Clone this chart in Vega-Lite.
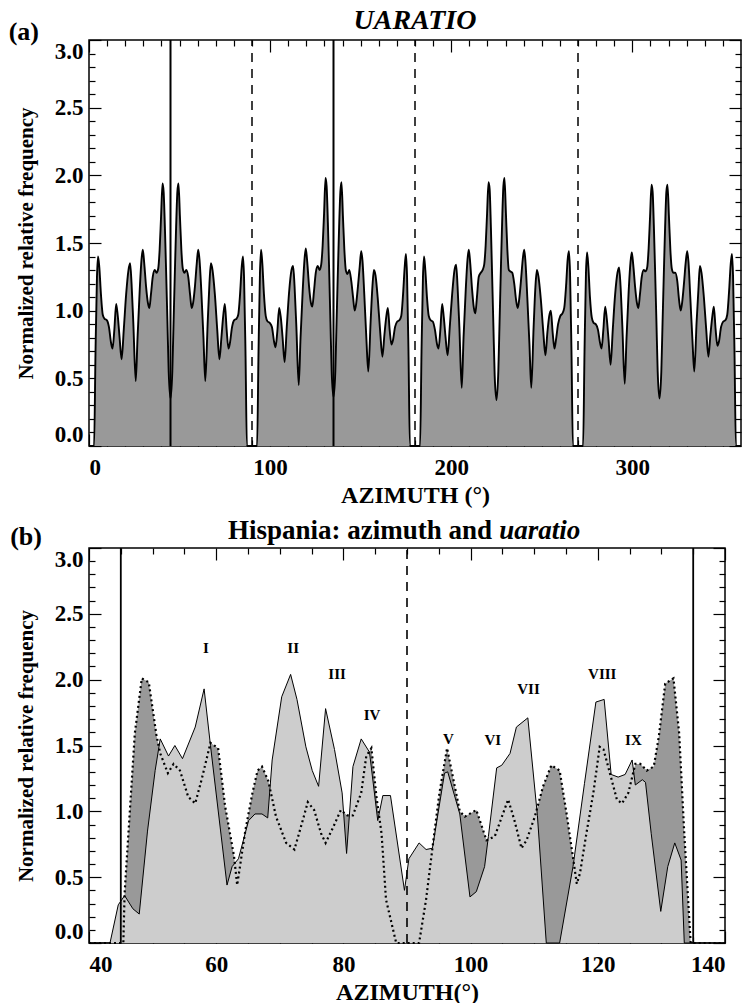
{
  "$schema": "https://vega.github.io/schema/vega-lite/v6.json",
  "padding": {"left": 7, "top": 6, "right": 5, "bottom": 3},
  "background": "white",
  "config": {
    "font": "Liberation Serif",
    "view": {"stroke": "black", "strokeWidth": 1.5},
    "axis": {"grid": false, "domain": false, "labelFont": "Liberation Serif", "labelFontSize": 23, "labelFontWeight": "bold", "labelColor": "black", "titleFont": "Liberation Serif", "titleFontWeight": "bold", "titleColor": "black", "tickColor": "black", "tickWidth": 1.2},
    "title": {"font": "Liberation Serif", "fontWeight": "bold", "color": "black"},
    "concat": {"spacing": 8}
  },
  "datasets": {
    "ua": [
      {"a":0,"v":0},{"a":2.8,"v":0},{"a":3.6,"v":0.7},{"a":4.4,"v":1.25},{"a":5.0,"v":1.40},{"a":5.7,"v":1.32},{"a":6.6,"v":1.12},{"a":7.6,"v":0.97},{"a":8.6,"v":0.94},{"a":9.8,"v":0.93},{"a":11.0,"v":0.88},{"a":12.2,"v":0.76},{"a":13.0,"v":0.72},{"a":14.0,"v":0.86},{"a":15.0,"v":1.05},{"a":15.9,"v":0.96},{"a":16.9,"v":0.80},{"a":18.0,"v":0.64},{"a":19.2,"v":0.86},{"a":20.5,"v":1.12},{"a":21.8,"v":1.30},{"a":22.7,"v":1.35},{"a":23.5,"v":1.20},{"a":24.5,"v":0.90},{"a":25.8,"v":0.48},{"a":26.8,"v":0.80},{"a":28.0,"v":1.15},{"a":29.0,"v":1.38},{"a":29.7,"v":1.45},{"a":30.5,"v":1.35},{"a":31.5,"v":1.18},{"a":32.5,"v":1.06},{"a":33.3,"v":1.02},{"a":34.2,"v":1.12},{"a":35.2,"v":1.25},{"a":36.3,"v":1.30},{"a":37.3,"v":1.28},{"a":38.2,"v":1.31},{"a":39.0,"v":1.45},{"a":39.8,"v":1.70},{"a":40.6,"v":1.94},{"a":41.2,"v":1.88},{"a":41.9,"v":1.62},{"a":42.6,"v":1.28},{"a":43.3,"v":0.92},{"a":44.0,"v":0.55},{"a":45,"v":0.35},
      {"a":46.0,"v":0.55},{"a":46.7,"v":0.92},{"a":47.4,"v":1.28},{"a":48.1,"v":1.62},{"a":48.8,"v":1.88},{"a":49.4,"v":1.94},{"a":50.2,"v":1.70},{"a":51.0,"v":1.45},{"a":51.8,"v":1.31},{"a":52.7,"v":1.28},{"a":53.7,"v":1.30},{"a":54.8,"v":1.25},{"a":55.8,"v":1.12},{"a":56.7,"v":1.02},{"a":57.5,"v":1.06},{"a":58.5,"v":1.18},{"a":59.5,"v":1.35},{"a":60.3,"v":1.45},{"a":61.0,"v":1.38},{"a":62.0,"v":1.15},{"a":63.2,"v":0.80},{"a":64.2,"v":0.48},{"a":65.5,"v":0.90},{"a":66.5,"v":1.20},{"a":67.3,"v":1.35},{"a":68.2,"v":1.30},{"a":69.5,"v":1.12},{"a":70.8,"v":0.86},{"a":72.0,"v":0.64},{"a":73.1,"v":0.80},{"a":74.1,"v":0.96},{"a":75.0,"v":1.05},{"a":76.0,"v":0.86},{"a":77.0,"v":0.72},{"a":77.8,"v":0.76},{"a":79.0,"v":0.88},{"a":80.2,"v":0.93},{"a":81.4,"v":0.94},{"a":82.4,"v":0.97},{"a":83.4,"v":1.12},{"a":84.3,"v":1.32},{"a":85.0,"v":1.40},{"a":85.6,"v":1.25},{"a":86.4,"v":0.7},{"a":87.2,"v":0},{"a":90,"v":0},
      {"a":92.8,"v":0},{"a":93.6,"v":0.7},{"a":94.4,"v":1.28},{"a":95.0,"v":1.45},{"a":95.7,"v":1.35},{"a":96.6,"v":1.12},{"a":97.6,"v":0.96},{"a":98.6,"v":0.92},{"a":99.8,"v":0.91},{"a":101.0,"v":0.88},{"a":102.2,"v":0.77},{"a":103.0,"v":0.73},{"a":104.0,"v":0.85},{"a":105.0,"v":1.02},{"a":105.9,"v":0.95},{"a":106.9,"v":0.80},{"a":108.0,"v":0.62},{"a":109.2,"v":0.88},{"a":110.5,"v":1.14},{"a":111.8,"v":1.30},{"a":112.7,"v":1.33},{"a":113.5,"v":1.18},{"a":114.5,"v":0.88},{"a":115.8,"v":0.45},{"a":116.8,"v":0.80},{"a":118.0,"v":1.15},{"a":119.0,"v":1.38},{"a":119.7,"v":1.46},{"a":120.5,"v":1.36},{"a":121.5,"v":1.18},{"a":122.5,"v":1.06},{"a":123.3,"v":1.03},{"a":124.2,"v":1.14},{"a":125.2,"v":1.28},{"a":126.3,"v":1.33},{"a":127.3,"v":1.30},{"a":128.2,"v":1.34},{"a":129.0,"v":1.48},{"a":129.8,"v":1.72},{"a":130.6,"v":1.98},{"a":131.2,"v":1.92},{"a":131.9,"v":1.65},{"a":132.6,"v":1.30},{"a":133.3,"v":0.92},{"a":134.0,"v":0.55},{"a":135,"v":0.36},
      {"a":136.0,"v":0.55},{"a":136.7,"v":0.92},{"a":137.4,"v":1.28},{"a":138.1,"v":1.62},{"a":138.8,"v":1.88},{"a":139.4,"v":1.95},{"a":140.2,"v":1.70},{"a":141.0,"v":1.45},{"a":141.8,"v":1.30},{"a":142.7,"v":1.27},{"a":143.7,"v":1.30},{"a":144.8,"v":1.22},{"a":145.8,"v":1.10},{"a":146.7,"v":1.00},{"a":147.5,"v":1.05},{"a":148.5,"v":1.18},{"a":149.5,"v":1.33},{"a":150.3,"v":1.44},{"a":151.0,"v":1.37},{"a":152.0,"v":1.12},{"a":153.2,"v":0.78},{"a":154.2,"v":0.55},{"a":155.5,"v":0.92},{"a":156.5,"v":1.18},{"a":157.3,"v":1.30},{"a":158.2,"v":1.26},{"a":159.5,"v":1.08},{"a":160.8,"v":0.84},{"a":162.0,"v":0.66},{"a":163.1,"v":0.82},{"a":164.1,"v":0.95},{"a":165.0,"v":1.02},{"a":166.0,"v":0.86},{"a":167.0,"v":0.75},{"a":167.8,"v":0.78},{"a":169.0,"v":0.88},{"a":170.2,"v":0.92},{"a":171.4,"v":0.93},{"a":172.4,"v":0.96},{"a":173.4,"v":1.12},{"a":174.3,"v":1.32},{"a":175.0,"v":1.42},{"a":175.6,"v":1.26},{"a":176.4,"v":0.7},{"a":177.2,"v":0},{"a":180,"v":0},
      {"a":182.8,"v":0},{"a":183.6,"v":0.7},{"a":184.4,"v":1.25},{"a":185.0,"v":1.40},{"a":185.7,"v":1.30},{"a":186.6,"v":1.10},{"a":187.6,"v":0.96},{"a":188.6,"v":0.93},{"a":189.8,"v":0.92},{"a":191.0,"v":0.86},{"a":192.2,"v":0.75},{"a":193.0,"v":0.72},{"a":194.0,"v":0.86},{"a":195.0,"v":1.05},{"a":195.9,"v":0.95},{"a":196.9,"v":0.80},{"a":198.0,"v":0.67},{"a":199.2,"v":0.88},{"a":200.5,"v":1.12},{"a":201.8,"v":1.30},{"a":202.7,"v":1.34},{"a":203.5,"v":1.18},{"a":204.5,"v":0.88},{"a":205.8,"v":0.43},{"a":206.8,"v":0.80},{"a":208.0,"v":1.15},{"a":209.0,"v":1.38},{"a":209.7,"v":1.45},{"a":210.5,"v":1.35},{"a":211.5,"v":1.16},{"a":212.5,"v":1.02},{"a":213.3,"v":0.98},{"a":214.2,"v":1.10},{"a":215.2,"v":1.25},{"a":216.3,"v":1.28},{"a":217.3,"v":1.30},{"a":218.2,"v":1.34},{"a":219.0,"v":1.48},{"a":219.8,"v":1.72},{"a":220.6,"v":1.95},{"a":221.2,"v":1.90},{"a":221.9,"v":1.62},{"a":222.6,"v":1.25},{"a":223.3,"v":0.88},{"a":224.0,"v":0.52},{"a":225,"v":0.34},
      {"a":226.0,"v":0.55},{"a":226.7,"v":0.92},{"a":227.4,"v":1.30},{"a":228.1,"v":1.65},{"a":228.8,"v":1.92},{"a":229.4,"v":1.98},{"a":230.2,"v":1.72},{"a":231.0,"v":1.45},{"a":231.8,"v":1.30},{"a":232.7,"v":1.29},{"a":233.7,"v":1.28},{"a":234.8,"v":1.20},{"a":235.8,"v":1.08},{"a":236.7,"v":1.02},{"a":237.5,"v":1.08},{"a":238.5,"v":1.22},{"a":239.5,"v":1.38},{"a":240.3,"v":1.45},{"a":241.0,"v":1.36},{"a":242.0,"v":1.10},{"a":243.2,"v":0.75},{"a":244.2,"v":0.43},{"a":245.5,"v":0.88},{"a":246.5,"v":1.18},{"a":247.3,"v":1.30},{"a":248.2,"v":1.25},{"a":249.5,"v":1.08},{"a":250.8,"v":0.85},{"a":252.0,"v":0.67},{"a":253.1,"v":0.84},{"a":254.1,"v":0.96},{"a":255.0,"v":1.00},{"a":256.0,"v":0.84},{"a":257.0,"v":0.72},{"a":257.8,"v":0.78},{"a":259.0,"v":0.90},{"a":260.2,"v":0.96},{"a":261.4,"v":0.98},{"a":262.4,"v":1.02},{"a":263.4,"v":1.18},{"a":264.3,"v":1.38},{"a":265.0,"v":1.44},{"a":265.6,"v":1.28},{"a":266.4,"v":0.7},{"a":267.2,"v":0},{"a":270,"v":0},
      {"a":272.8,"v":0},{"a":273.6,"v":0.7},{"a":274.4,"v":1.28},{"a":275.0,"v":1.43},{"a":275.7,"v":1.33},{"a":276.6,"v":1.10},{"a":277.6,"v":0.95},{"a":278.6,"v":0.91},{"a":279.8,"v":0.90},{"a":281.0,"v":0.86},{"a":282.2,"v":0.76},{"a":283.0,"v":0.72},{"a":284.0,"v":0.86},{"a":285.0,"v":1.03},{"a":285.9,"v":0.94},{"a":286.9,"v":0.78},{"a":288.0,"v":0.60},{"a":289.2,"v":0.86},{"a":290.5,"v":1.12},{"a":291.8,"v":1.28},{"a":292.7,"v":1.32},{"a":293.5,"v":1.18},{"a":294.5,"v":0.88},{"a":295.8,"v":0.46},{"a":296.8,"v":0.80},{"a":298.0,"v":1.15},{"a":299.0,"v":1.36},{"a":299.7,"v":1.43},{"a":300.5,"v":1.34},{"a":301.5,"v":1.18},{"a":302.5,"v":1.06},{"a":303.3,"v":1.02},{"a":304.2,"v":1.12},{"a":305.2,"v":1.25},{"a":306.3,"v":1.30},{"a":307.3,"v":1.29},{"a":308.2,"v":1.32},{"a":309.0,"v":1.46},{"a":309.8,"v":1.70},{"a":310.6,"v":1.93},{"a":311.2,"v":1.88},{"a":311.9,"v":1.62},{"a":312.6,"v":1.28},{"a":313.3,"v":0.92},{"a":314.0,"v":0.55},{"a":315,"v":0.35},
      {"a":316.0,"v":0.55},{"a":316.7,"v":0.92},{"a":317.4,"v":1.28},{"a":318.1,"v":1.62},{"a":318.8,"v":1.88},{"a":319.4,"v":1.93},{"a":320.2,"v":1.70},{"a":321.0,"v":1.45},{"a":321.8,"v":1.31},{"a":322.7,"v":1.28},{"a":323.7,"v":1.28},{"a":324.8,"v":1.22},{"a":325.8,"v":1.08},{"a":326.7,"v":1.00},{"a":327.5,"v":1.06},{"a":328.5,"v":1.20},{"a":329.5,"v":1.36},{"a":330.3,"v":1.44},{"a":331.0,"v":1.36},{"a":332.0,"v":1.10},{"a":333.2,"v":0.78},{"a":334.2,"v":0.55},{"a":335.5,"v":0.92},{"a":336.5,"v":1.16},{"a":337.3,"v":1.33},{"a":338.2,"v":1.28},{"a":339.5,"v":1.10},{"a":340.8,"v":0.86},{"a":342.0,"v":0.66},{"a":343.1,"v":0.82},{"a":344.1,"v":0.95},{"a":345.0,"v":1.03},{"a":346.0,"v":0.86},{"a":347.0,"v":0.74},{"a":347.8,"v":0.77},{"a":349.0,"v":0.88},{"a":350.2,"v":0.92},{"a":351.4,"v":0.93},{"a":352.4,"v":0.97},{"a":353.4,"v":1.14},{"a":354.3,"v":1.34},{"a":355.0,"v":1.42},{"a":355.6,"v":1.26},{"a":356.4,"v":0.7},{"a":357.2,"v":0},{"a":360,"v":0}
    ],
    "hisp": [
      {"a":40,"v":0},{"a":43.3,"v":0},{"a":44.6,"v":0.29},{"a":45.6,"v":0.36},{"a":46.9,"v":0.26},{"a":47.9,"v":0.22},{"a":49.2,"v":0.85},{"a":50.4,"v":1.31},{"a":51.2,"v":1.55},{"a":52.5,"v":1.42},{"a":53.5,"v":1.50},{"a":54.7,"v":1.40},{"a":56.7,"v":1.64},{"a":58.1,"v":1.93},{"a":59.1,"v":1.50},{"a":61.7,"v":0.44},{"a":62.5,"v":0.58},{"a":63.5,"v":0.64},{"a":65.1,"v":0.93},{"a":66.1,"v":0.98},{"a":67.2,"v":0.98},{"a":68.1,"v":0.95},{"a":68.8,"v":1.39},{"a":70.3,"v":1.87},{"a":71.7,"v":2.04},{"a":72.7,"v":1.85},{"a":74.1,"v":1.49},{"a":75.1,"v":1.31},{"a":76.1,"v":1.19},{"a":77.2,"v":1.78},{"a":78.6,"v":1.47},{"a":79.8,"v":1.14},{"a":80.5,"v":0.68},{"a":81.5,"v":1.34},{"a":82.8,"v":1.55},{"a":84.1,"v":1.45},{"a":85.4,"v":0.93},{"a":86.2,"v":1.12},{"a":87.4,"v":1.12},{"a":89.6,"v":0.40},{"a":90.3,"v":0.64},{"a":91.9,"v":0.76},{"a":93.0,"v":0.71},{"a":94.0,"v":0.72},{"a":95.9,"v":1.29},{"a":96.4,"v":1.30},{"a":98.3,"v":0.98},{"a":99.9,"v":0.35},{"a":100.9,"v":0.39},{"a":102.2,"v":0.58},{"a":102.8,"v":0.81},{"a":104.1,"v":1.33},{"a":104.9,"v":1.35},{"a":106.2,"v":1.44},{"a":107.2,"v":1.64},{"a":109.0,"v":1.71},{"a":110.5,"v":0.97},{"a":111.9,"v":0},{"a":114.0,"v":0},{"a":116.1,"v":0.58},{"a":117.9,"v":1.21},{"a":119.7,"v":1.83},{"a":121.0,"v":1.85},{"a":122.1,"v":1.28},{"a":123.2,"v":1.26},{"a":124.3,"v":1.28},{"a":125.4,"v":1.39},{"a":125.9,"v":1.20},{"a":127.0,"v":1.24},{"a":127.5,"v":1.22},{"a":128.4,"v":0.83},{"a":129.9,"v":0.24},{"a":131.0,"v":0.58},{"a":132.1,"v":0.76},{"a":133.1,"v":0.63},{"a":133.6,"v":0},{"a":140,"v":0}
    ],
    "uab": [
      {"a":40,"v":0},{"a":45.4,"v":0},{"a":45.6,"v":0.38},{"a":47.2,"v":1.59},{"a":48.3,"v":2.01},{"a":49.4,"v":1.98},{"a":50.6,"v":1.58},{"a":51.2,"v":1.44},{"a":52.4,"v":1.29},{"a":53.3,"v":1.36},{"a":54.3,"v":1.31},{"a":55.6,"v":1.11},{"a":56.7,"v":1.06},{"a":57.7,"v":1.24},{"a":59.1,"v":1.52},{"a":60.3,"v":1.48},{"a":61.4,"v":1.04},{"a":62.8,"v":0.66},{"a":63.3,"v":0.44},{"a":64.6,"v":0.86},{"a":65.7,"v":1.14},{"a":66.5,"v":1.31},{"a":67.2,"v":1.34},{"a":68.2,"v":1.23},{"a":69.4,"v":0.96},{"a":71.0,"v":0.76},{"a":72.3,"v":0.71},{"a":73.6,"v":0.93},{"a":74.4,"v":1.07},{"a":75.4,"v":1.01},{"a":76.5,"v":0.83},{"a":77.2,"v":0.76},{"a":78.3,"v":0.87},{"a":79.6,"v":1.01},{"a":80.6,"v":0.97},{"a":81.5,"v":0.97},{"a":82.8,"v":1.14},{"a":83.6,"v":1.42},{"a":84.4,"v":1.48},{"a":85.2,"v":1.11},{"a":86.0,"v":0.83},{"a":86.7,"v":0.33},{"a":88.3,"v":0},{"a":91.9,"v":0},{"a":93.0,"v":0.33},{"a":94.1,"v":0.76},{"a":95.1,"v":1.14},{"a":96.3,"v":1.48},{"a":98.3,"v":1.00},{"a":99.1,"v":0.96},{"a":100.9,"v":1.01},{"a":102.5,"v":0.78},{"a":103.8,"v":0.81},{"a":105.9,"v":1.09},{"a":106.9,"v":0.93},{"a":108.0,"v":0.72},{"a":108.8,"v":0.78},{"a":110.1,"v":0.96},{"a":111.4,"v":1.19},{"a":112.7,"v":1.35},{"a":114.0,"v":1.31},{"a":115.1,"v":0.98},{"a":116.7,"v":0.45},{"a":117.2,"v":0.53},{"a":118.2,"v":0.83},{"a":119.3,"v":1.14},{"a":120.3,"v":1.49},{"a":120.9,"v":1.47},{"a":121.9,"v":1.29},{"a":123.0,"v":1.09},{"a":123.8,"v":1.06},{"a":124.8,"v":1.14},{"a":125.9,"v":1.36},{"a":126.7,"v":1.36},{"a":127.7,"v":1.31},{"a":128.8,"v":1.34},{"a":129.6,"v":1.57},{"a":130.6,"v":1.97},{"a":131.9,"v":2.01},{"a":132.8,"v":1.59},{"a":133.6,"v":0.83},{"a":134.6,"v":0},{"a":140,"v":0}
    ]
  },
  "vconcat": [
    {
      "width": 652,
      "height": 406,
      "title": {"text": "UARATIO", "fontSize": 28, "fontStyle": "italic", "offset": -16},
      "resolve": {"axis": {"x": "independent", "y": "independent"}},
      "layer": [
        {
          "data": {"name": "ua"},
          "mark": {"type": "area", "color": "#999999", "opacity": 1, "interpolate": "monotone"},
          "encoding": {
            "x": {"field": "a", "type": "quantitative", "scale": {"domain": [0, 360], "nice": false, "zero": false},
                  "axis": {"orient": "bottom", "values": [0, 100, 200, 300], "tickSize": -12, "labelPadding": 22, "title": "AZIMUTH (°)", "titleFontSize": 24, "titlePadding": 4}},
            "y": {"field": "v", "type": "quantitative", "scale": {"domain": [0, 3], "nice": false},
                  "axis": {"orient": "left", "values": [0, 0.5, 1, 1.5, 2, 2.5, 3], "format": ".1f", "tickSize": -12, "labelPadding": 18, "labelFlush": true, "title": "Normalized relative frequency", "titleFontSize": 21, "titlePadding": 18}}
          }
        },
        {
          "data": {"name": "ua"},
          "mark": {"type": "line", "color": "black", "strokeWidth": 1.9, "interpolate": "monotone"},
          "encoding": {
            "x": {"field": "a", "type": "quantitative", "scale": {"domain": [0, 360], "nice": false, "zero": false},
                  "axis": {"orient": "bottom", "values": [10,20,30,40,50,60,70,80,90,110,120,130,140,150,160,170,180,190,210,220,230,240,250,260,270,280,290,310,320,330,340,350], "tickSize": -6, "labels": false, "title": null}},
            "y": {"field": "v", "type": "quantitative", "scale": {"domain": [0, 3], "nice": false},
                  "axis": {"orient": "left", "values": [0.1,0.2,0.3,0.4,0.6,0.7,0.8,0.9,1.1,1.2,1.3,1.4,1.6,1.7,1.8,1.9,2.1,2.2,2.3,2.4,2.6,2.7,2.8,2.9], "tickSize": -6, "labels": false, "title": null}}
          }
        },
        {
          "data": {"values": [{"a": 45}, {"a": 135}]},
          "mark": {"type": "rule", "color": "black", "strokeWidth": 2},
          "encoding": {
            "x": {"field": "a", "type": "quantitative", "scale": {"domain": [0, 360], "nice": false, "zero": false},
                  "axis": {"orient": "top", "values": [0, 100, 200, 300], "tickSize": -12, "labels": false, "title": null}},
            "y": {"datum": 0, "type": "quantitative", "scale": {"domain": [0, 3], "nice": false},
                  "axis": {"orient": "right", "values": [0, 0.5, 1, 1.5, 2, 2.5, 3], "tickSize": -12, "labels": false, "title": null}},
            "y2": {"datum": 3}
          }
        },
        {
          "data": {"values": [{"a": 90}, {"a": 180}, {"a": 270}]},
          "mark": {"type": "rule", "color": "black", "strokeWidth": 1.5, "strokeDash": [9, 7]},
          "encoding": {
            "x": {"field": "a", "type": "quantitative", "scale": {"domain": [0, 360], "nice": false, "zero": false},
                  "axis": {"orient": "top", "values": [10,20,30,40,50,60,70,80,90,110,120,130,140,150,160,170,180,190,210,220,230,240,250,260,270,280,290,310,320,330,340,350], "tickSize": -6, "labels": false, "title": null}},
            "y": {"datum": 0, "type": "quantitative", "scale": {"domain": [0, 3], "nice": false},
                  "axis": {"orient": "right", "values": [0.1,0.2,0.3,0.4,0.6,0.7,0.8,0.9,1.1,1.2,1.3,1.4,1.6,1.7,1.8,1.9,2.1,2.2,2.3,2.4,2.6,2.7,2.8,2.9], "tickSize": -6, "labels": false, "title": null}},
            "y2": {"datum": 3}
          }
        },
        {
          "data": {"values": [{"t": "(a)", "a": -36, "v": 3.06}]},
          "mark": {"type": "text", "fontSize": 26, "fontWeight": "bold", "font": "Liberation Serif", "baseline": "middle", "align": "center", "color": "black"},
          "encoding": {
            "x": {"field": "a", "type": "quantitative", "scale": {"domain": [0, 360], "nice": false, "zero": false}, "axis": null},
            "y": {"field": "v", "type": "quantitative", "scale": {"domain": [0, 3], "nice": false}, "axis": null},
            "text": {"field": "t"}
          }
        }
      ]
    },
    {
      "width": 636,
      "height": 395,
      "title": {"text": "Hispania: azimuth and", "fontSize": 27, "offset": -28, "dx": -47},
      "resolve": {"axis": {"x": "independent", "y": "independent"}},
      "layer": [
        {
          "data": {"name": "uab"},
          "mark": {"type": "area", "color": "#999999", "opacity": 1},
          "encoding": {
            "x": {"field": "a", "type": "quantitative", "scale": {"domain": [40, 140], "nice": false, "zero": false},
                  "axis": {"orient": "bottom", "values": [40, 60, 80, 100, 120, 140], "tickSize": -12, "labelPadding": 22, "title": "AZIMUTH(°)", "titleFontSize": 24, "titlePadding": 4}},
            "y": {"field": "v", "type": "quantitative", "scale": {"domain": [0, 3], "nice": false},
                  "axis": {"orient": "left", "values": [0, 0.5, 1, 1.5, 2, 2.5, 3], "format": ".1f", "tickSize": -12, "labelPadding": 18, "labelFlush": true, "title": "Normalized relative frequency", "titleFontSize": 21, "titlePadding": 18}}
          }
        },
        {
          "data": {"name": "hisp"},
          "mark": {"type": "area", "color": "#cdcdcd", "opacity": 1, "line": {"color": "black", "strokeWidth": 1}},
          "encoding": {
            "x": {"field": "a", "type": "quantitative", "scale": {"domain": [40, 140], "nice": false, "zero": false},
                  "axis": {"orient": "bottom", "values": [45,50,55,65,70,75,85,90,95,105,110,115,125,130,135], "tickSize": -6, "labels": false, "title": null}},
            "y": {"field": "v", "type": "quantitative", "scale": {"domain": [0, 3], "nice": false},
                  "axis": {"orient": "left", "values": [0.1,0.2,0.3,0.4,0.6,0.7,0.8,0.9,1.1,1.2,1.3,1.4,1.6,1.7,1.8,1.9,2.1,2.2,2.3,2.4,2.6,2.7,2.8,2.9], "tickSize": -6, "labels": false, "title": null}}
          }
        },
        {
          "data": {"name": "uab"},
          "mark": {"type": "line", "color": "black", "strokeWidth": 2.2, "strokeDash": [2, 3]},
          "encoding": {
            "x": {"field": "a", "type": "quantitative", "scale": {"domain": [40, 140], "nice": false, "zero": false},
                  "axis": {"orient": "top", "values": [40, 60, 80, 100, 120, 140], "tickSize": -12, "labels": false, "title": null}},
            "y": {"field": "v", "type": "quantitative", "scale": {"domain": [0, 3], "nice": false},
                  "axis": {"orient": "right", "values": [0, 0.5, 1, 1.5, 2, 2.5, 3], "tickSize": -12, "labels": false, "title": null}}
          }
        },
        {
          "data": {"values": [{"a": 45}, {"a": 135}]},
          "mark": {"type": "rule", "color": "black", "strokeWidth": 1.8},
          "encoding": {
            "x": {"field": "a", "type": "quantitative", "scale": {"domain": [40, 140], "nice": false, "zero": false},
                  "axis": {"orient": "top", "values": [45,50,55,65,70,75,85,90,95,105,110,115,125,130,135], "tickSize": -6, "labels": false, "title": null}},
            "y": {"datum": 0, "type": "quantitative", "scale": {"domain": [0, 3], "nice": false},
                  "axis": {"orient": "right", "values": [0.1,0.2,0.3,0.4,0.6,0.7,0.8,0.9,1.1,1.2,1.3,1.4,1.6,1.7,1.8,1.9,2.1,2.2,2.3,2.4,2.6,2.7,2.8,2.9], "tickSize": -6, "labels": false, "title": null}},
            "y2": {"datum": 3}
          }
        },
        {
          "data": {"values": [{"a": 90}]},
          "mark": {"type": "rule", "color": "black", "strokeWidth": 1.6, "strokeDash": [9, 7]},
          "encoding": {
            "x": {"field": "a", "type": "quantitative", "scale": {"domain": [40, 140], "nice": false, "zero": false}, "axis": null},
            "y": {"datum": 0, "type": "quantitative", "scale": {"domain": [0, 3], "nice": false}, "axis": null},
            "y2": {"datum": 3}
          }
        },
        {
          "data": {"values": [
            {"t": "I", "a": 58.4, "v": 2.24}, {"t": "II", "a": 72.1, "v": 2.24}, {"t": "III", "a": 79.0, "v": 2.04},
            {"t": "IV", "a": 84.5, "v": 1.73}, {"t": "V", "a": 96.5, "v": 1.55}, {"t": "VI", "a": 103.5, "v": 1.54},
            {"t": "VII", "a": 109.1, "v": 1.93}, {"t": "VIII", "a": 120.7, "v": 2.04}, {"t": "IX", "a": 125.6, "v": 1.54}
          ]},
          "mark": {"type": "text", "fontSize": 15, "fontWeight": "bold", "font": "Liberation Serif", "baseline": "middle", "align": "center", "color": "black"},
          "encoding": {
            "x": {"field": "a", "type": "quantitative", "scale": {"domain": [40, 140], "nice": false, "zero": false}, "axis": null},
            "y": {"field": "v", "type": "quantitative", "scale": {"domain": [0, 3], "nice": false}, "axis": null},
            "text": {"field": "t"}
          }
        },
        {
          "data": {"values": [{"t": "(b)", "a": 30.1, "v": 3.08}]},
          "mark": {"type": "text", "fontSize": 26, "fontWeight": "bold", "font": "Liberation Serif", "baseline": "middle", "align": "center", "color": "black"},
          "encoding": {
            "x": {"field": "a", "type": "quantitative", "scale": {"domain": [40, 140], "nice": false, "zero": false}, "axis": null},
            "y": {"field": "v", "type": "quantitative", "scale": {"domain": [0, 3], "nice": false}, "axis": null},
            "text": {"field": "t"}
          }
        },
        {
          "data": {"values": [{"t": "uaratio", "a": 104.5, "v": 3.068}]},
          "mark": {"type": "text", "fontSize": 27, "fontWeight": "bold", "fontStyle": "italic", "font": "Liberation Serif", "baseline": "alphabetic", "align": "left", "color": "black"},
          "encoding": {
            "x": {"field": "a", "type": "quantitative", "scale": {"domain": [40, 140], "nice": false, "zero": false}, "axis": null},
            "y": {"field": "v", "type": "quantitative", "scale": {"domain": [0, 3], "nice": false}, "axis": null},
            "text": {"field": "t"}
          }
        }
      ]
    }
  ]
}
